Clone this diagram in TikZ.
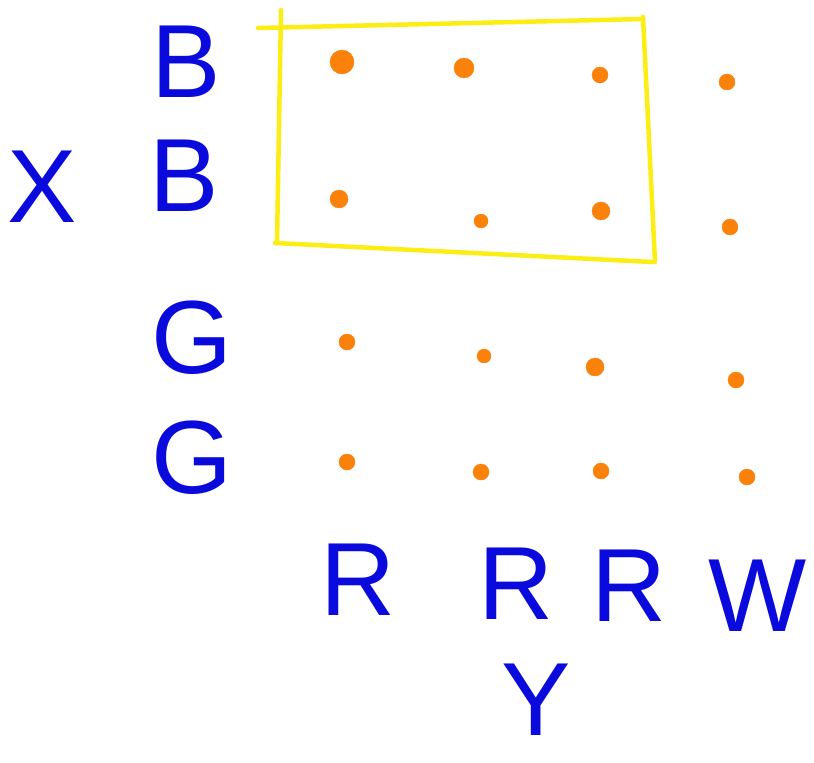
\documentclass[tikz,border=0pt]{standalone}
\usepackage{fontspec}
\setmainfont{Liberation Sans}
\usepackage{tikz}
\usepackage{xcolor}
\usetikzlibrary{positioning}
\definecolor{cInk}{RGB}{10,10,220}
\definecolor{cDot}{RGB}{250,130,10}
\definecolor{cBox}{RGB}{250,238,20}
\tikzset{
	letter/.style={text=cInk, inner sep=0pt, font=\fontsize{104}{104}\selectfont},
	dot/.style={circle, fill=cDot, draw=cDot, inner sep=0pt},
	boxline/.style={draw=cBox, line width=4.5pt, line cap=round, line join=round},
}
\begin{document}
\begin{tikzpicture}[x=1pt, y=-1pt]
	\useasboundingbox (0,0) rectangle (814,763);
	% selection frame
	\draw[boxline] (258,28) -- (643,19);
	\draw[boxline] (281,10) -- (277,243);
	\draw[boxline] (643,17) -- (655,262);
	\draw[boxline] (275,243) -- (652,262);
	% row labels
	\node[letter] (b1) at (186,62) {B};
	\node[letter] (b2) at (184,176) {B};
	\node[letter] (g1) at (192,338) {G};
	\node[letter] (g2) at (192,458) {G};
	\node[letter] (x)  at (42,187) {X};
	% column labels
	\node[letter] (r1) at (358,580) {R};
	\node[letter] (r2) at (516,584) {R};
	\node[letter] (r3) at (629,586) {R};
	\node[letter] (w)  at (758,596) {W};
	\node[letter] (y)  at (536,700) {Y};
	% dots
	\foreach \px/\py/\rr [count=\i] in {342/62/12, 464/68/10, 600/75/8, 727/82/8,
		339/199/9, 481/221/7, 601/211/9, 730/227/8,
		347/342/8, 484/356/7, 595/367/9, 736/380/8,
		347/462/8, 481/472/8, 601/471/8, 747/477/8}
		\node[dot, minimum size=2*\rr] (dot\i) at (\px,\py) {};
\end{tikzpicture}
\end{document}
